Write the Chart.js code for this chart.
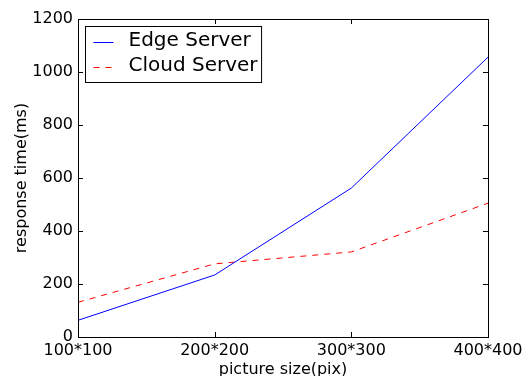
<!DOCTYPE html>
<html>
<head>
<meta charset="utf-8">
<script src="https://cdn.jsdelivr.net/npm/chart.js@4/dist/chart.umd.min.js"></script>
<style>
html, body { margin: 0; padding: 0; background: #fff; }
#wrap { width: 524px; height: 376px; }
</style>
</head>
<body>
<div id="wrap"><canvas id="chart" width="524" height="376"></canvas></div>
<script>
// values
var sizes = ["100*100", "200*200", "300*300", "400*400"];
var edgeTimes = [63, 234, 562, 1056];
var cloudTimes = [131, 276, 321, 505];
var yTicks = [0, 200, 400, 600, 800, 1000, 1200];

var FONT = "'DejaVu Sans', sans-serif";

// matplotlib classic look: black frame, ticks pointing inwards on all four sides
var frameAndTicks = {
	id: 'frameAndTicks',
	afterDatasetsDraw: function (chart) {
		var ctx = chart.ctx;
		var a = chart.chartArea;
		var xs = chart.scales.x, ys = chart.scales.y;
		var len = 5;
		ctx.save();
		ctx.strokeStyle = '#000';
		ctx.lineWidth = 1;
		ctx.beginPath();
		for (var i = 0; i < sizes.length; i++) {
			var px = Math.round(xs.getPixelForValue(i)) + 0.5;
			ctx.moveTo(px, a.bottom);
			ctx.lineTo(px, a.bottom - len);
			ctx.moveTo(px, a.top);
			ctx.lineTo(px, a.top + len);
		}
		for (var j = 0; j < yTicks.length; j++) {
			var py = Math.round(ys.getPixelForValue(yTicks[j])) + 0.5;
			ctx.moveTo(a.left, py);
			ctx.lineTo(a.left + len, py);
			ctx.moveTo(a.right, py);
			ctx.lineTo(a.right - len, py);
		}
		ctx.stroke();
		ctx.strokeRect(Math.round(a.left) + 0.5, Math.round(a.top) + 0.5,
			Math.round(a.right - a.left), Math.round(a.bottom - a.top));
		ctx.restore();
	}
};

// boxed legend in the upper left corner of the plot
var boxLegend = {
	id: 'boxLegend',
	afterDraw: function (chart) {
		var ctx = chart.ctx;
		var a = chart.chartArea;
		var sets = chart.data.datasets;
		ctx.save();
		ctx.font = '20px ' + FONT;
		var maxW = 0;
		for (var i = 0; i < sets.length; i++) {
			maxW = Math.max(maxW, ctx.measureText(sets[i].label).width);
		}
		var x0 = Math.round(a.left) + 7.5, y0 = Math.round(a.top) + 7.5;
		var w = 43 + maxW + 4, h = 56;
		ctx.fillStyle = '#fff';
		ctx.fillRect(x0, y0, w, h);
		ctx.strokeStyle = '#000';
		ctx.lineWidth = 1;
		ctx.strokeRect(x0, y0, w, h);
		for (var k = 0; k < sets.length; k++) {
			var cy = y0 + 15 + k * 25.5;
			ctx.strokeStyle = sets[k].borderColor;
			ctx.setLineDash(sets[k].borderDash || []);
			ctx.beginPath();
			ctx.moveTo(x0 + 8, Math.round(cy) + 0.5);
			ctx.lineTo(x0 + 28, Math.round(cy) + 0.5);
			ctx.stroke();
			ctx.setLineDash([]);
			ctx.fillStyle = '#000';
			ctx.textBaseline = 'middle';
			ctx.fillText(sets[k].label, x0 + 43, cy - 1);
		}
		ctx.restore();
	}
};

var ctx = document.getElementById('chart').getContext('2d');
var lineChart = new Chart(ctx, {
	type: 'line',
	data: {
		labels: sizes,
		datasets: [{
			label: 'Edge Server',
			data: edgeTimes,
			borderColor: '#0000ff',
			borderWidth: 1,
			pointRadius: 0,
			fill: false,
			tension: 0
		}, {
			label: 'Cloud Server',
			data: cloudTimes,
			borderColor: '#ff0000',
			borderWidth: 1,
			borderDash: [6, 6],
			pointRadius: 0,
			fill: false,
			tension: 0
		}]
	},
	options: {
		responsive: false,
		animation: false,
		layout: { padding: { left: 0, top: 19, right: 36, bottom: 0 } },
		plugins: {
			legend: { display: false },
			tooltip: { enabled: false }
		},
		scales: {
			x: {
				type: 'category',
				offset: false,
				grid: { display: false, drawTicks: false },
				border: { display: false },
				ticks: {
					color: '#000',
					font: { family: FONT, size: 16 },
					padding: 4,
					maxRotation: 0,
					autoSkip: false
				},
				title: {
					display: true,
					text: 'picture size(pix)',
					color: '#000',
					font: { family: FONT, size: 16 },
					padding: { top: 0, bottom: -3 }
				},
				afterFit: function (scale) {
					scale.height = 39;
					scale.paddingLeft = 0;
					scale.paddingRight = 0;
				}
			},
			y: {
				min: 0,
				max: 1200,
				grid: { display: false, drawTicks: false },
				border: { display: false },
				ticks: {
					stepSize: 200,
					color: '#000',
					font: { family: FONT, size: 16 },
					padding: 5,
					callback: function (v) { return String(v); }
				},
				title: {
					display: true,
					text: 'response time(ms)',
					color: '#000',
					font: { family: FONT, size: 16 },
					padding: { top: 12, bottom: 0 }
				},
				afterFit: function (scale) {
					scale.width = 78;
				}
			}
		}
	},
	plugins: [frameAndTicks, boxLegend]
});
</script>
</body>
</html>
